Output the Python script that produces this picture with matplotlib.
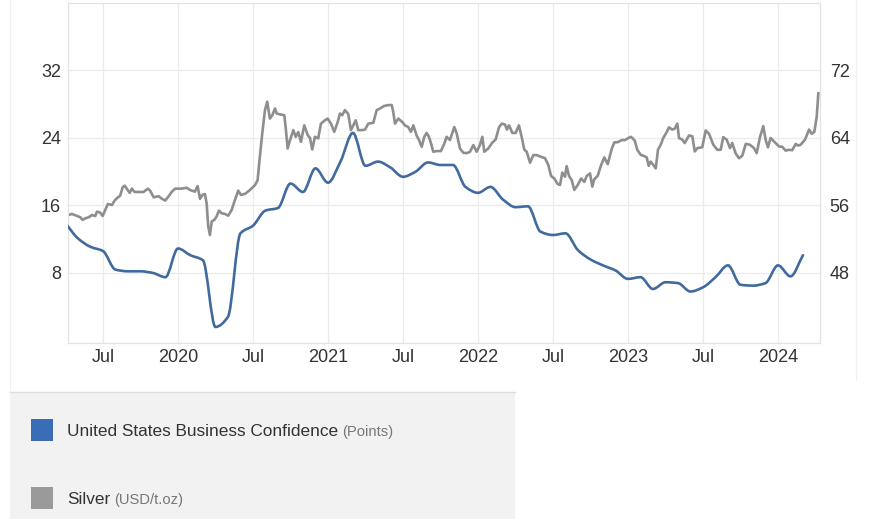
import matplotlib.pyplot as plt
import numpy as np
from matplotlib.path import Path
from matplotlib.patches import PathPatch, Rectangle
from matplotlib.lines import Line2D

plt.rcParams['font.family'] = ['Liberation Sans', 'DejaVu Sans']

# US business confidence (ISM, points), monthly, Apr 2019 .. Mar 2024 -> right axis
blue_start = (2019, 4)
blue_vals = [53.9, 52.1, 51.1, 50.6, 48.4, 48.2, 48.2, 48.0, 47.5,
             50.9, 50.1, 49.5, 41.6, 42.8, 52.7, 53.6, 55.4, 55.7, 58.6, 57.6, 60.4,
             58.7, 61.2, 64.6, 60.7, 61.2, 60.5, 59.4, 60.0, 61.1, 60.8, 60.8, 58.2,
             57.5, 58.2, 56.7, 55.8, 55.9, 52.9, 52.5, 52.7, 50.7, 49.6, 48.9, 48.3,
             47.3, 47.5, 46.1, 46.9, 46.8, 45.8, 46.3, 47.5, 48.9, 46.6, 46.5, 46.8,
             48.9, 47.6, 50.1]

# Silver (USD/t.oz), roughly weekly, time as decimal year -> left axis
silver_t = [2019.255, 2019.271, 2019.293, 2019.327, 2019.349, 2019.365, 2019.382, 2019.405, 2019.427,
            2019.449, 2019.460, 2019.482, 2019.498, 2019.515, 2019.533, 2019.560, 2019.578, 2019.593,
            2019.615, 2019.631, 2019.645, 2019.660, 2019.678, 2019.693, 2019.711, 2019.738, 2019.771,
            2019.800, 2019.815, 2019.838, 2019.871, 2019.893, 2019.915, 2019.938, 2019.960, 2019.982,
            2020.024, 2020.058, 2020.080, 2020.113, 2020.131, 2020.147, 2020.162, 2020.180, 2020.191,
            2020.202, 2020.213, 2020.225, 2020.242, 2020.258, 2020.273, 2020.291, 2020.313, 2020.335,
            2020.358, 2020.380, 2020.402, 2020.420, 2020.447, 2020.480, 2020.513, 2020.531, 2020.547,
            2020.562, 2020.580, 2020.595, 2020.613, 2020.629, 2020.647, 2020.658, 2020.680, 2020.709,
            2020.720, 2020.731, 2020.747, 2020.769, 2020.785, 2020.802, 2020.820, 2020.842, 2020.865,
            2020.880, 2020.895, 2020.913, 2020.935, 2020.953, 2020.980, 2020.998,
            2021.020, 2021.042, 2021.065, 2021.080, 2021.095, 2021.113, 2021.135, 2021.153, 2021.169,
            2021.185, 2021.202, 2021.225, 2021.247, 2021.269, 2021.302, 2021.325, 2021.347, 2021.375,
            2021.402, 2021.425, 2021.435, 2021.447, 2021.469, 2021.495, 2021.513, 2021.535, 2021.553,
            2021.569, 2021.591, 2021.607, 2021.625, 2021.642, 2021.658, 2021.673, 2021.687, 2021.702,
            2021.725, 2021.753, 2021.775, 2021.791, 2021.813, 2021.842, 2021.858, 2021.880, 2021.902,
            2021.925, 2021.947, 2021.969, 2021.991,
            2022.013, 2022.029, 2022.042, 2022.069, 2022.095, 2022.118, 2022.140, 2022.158, 2022.180,
            2022.193, 2022.207, 2022.229, 2022.251, 2022.273, 2022.291, 2022.309, 2022.325, 2022.347,
            2022.369, 2022.391, 2022.420, 2022.447, 2022.469, 2022.487, 2022.509, 2022.531, 2022.547,
            2022.562, 2022.580, 2022.591, 2022.607, 2022.625, 2022.642, 2022.665, 2022.687, 2022.709,
            2022.725, 2022.747, 2022.762, 2022.775, 2022.798, 2022.820, 2022.842, 2022.865, 2022.891,
            2022.909, 2022.931, 2022.958, 2022.980, 2022.998,
            2023.020, 2023.045, 2023.062, 2023.085, 2023.102, 2023.125, 2023.138, 2023.151, 2023.169,
            2023.185, 2023.200, 2023.218, 2023.235, 2023.258, 2023.273, 2023.295, 2023.311, 2023.329,
            2023.340, 2023.362, 2023.378, 2023.407, 2023.429, 2023.445, 2023.462, 2023.495, 2023.518,
            2023.540, 2023.569, 2023.595, 2023.618, 2023.635, 2023.658, 2023.680, 2023.695, 2023.718,
            2023.740, 2023.762, 2023.785, 2023.813, 2023.840, 2023.858, 2023.880, 2023.902, 2023.918,
            2023.933, 2023.951, 2023.978,
            2024.007, 2024.029, 2024.051, 2024.073, 2024.095, 2024.118, 2024.133, 2024.151, 2024.180,
            2024.207, 2024.225, 2024.242, 2024.258, 2024.269]
silver_vals = [14.9, 14.87, 15.0, 14.75, 14.6, 14.29, 14.48, 14.6, 14.87,
               14.75, 15.27, 15.15, 14.75, 15.47, 16.18, 16.06, 16.58, 16.86,
               17.17, 18.15, 18.35, 17.95, 17.5, 18.0, 17.6, 17.6, 17.6,
               18.0, 17.75, 16.97, 17.1, 16.8, 16.58, 17.1, 17.64, 18.0,
               18.0, 18.1, 17.84, 17.64, 18.3, 16.78, 17.25, 17.35, 16.26,
               13.5, 12.5, 14.1, 14.29, 14.7, 15.39, 15.08, 15.0, 14.79,
               15.47, 16.66, 17.76, 17.25, 17.37, 17.84, 18.4, 19.0, 21.97,
               24.54, 27.3, 28.3, 26.3, 26.7, 27.5, 26.9, 26.8, 26.7,
               24.93, 22.76, 23.75, 24.93, 24.14, 24.7, 23.55, 25.5, 24.34,
               24.0, 22.64, 24.14, 23.95, 25.7, 26.1, 26.3,
               25.7, 24.73, 25.9, 26.9, 26.7, 27.3, 26.85, 24.93, 25.5,
               26.1, 24.93, 24.93, 25.0, 25.7, 25.8, 27.3, 27.5, 27.8,
               27.9, 27.9, 27.1, 25.7, 26.3, 25.9, 25.5, 25.3, 24.73,
               25.5, 24.3, 23.75, 22.95, 24.14, 24.6, 24.14, 23.36, 22.37,
               22.45, 22.45, 23.3, 24.14, 23.75, 25.3, 24.54, 22.76, 22.25,
               22.2, 22.37, 23.16, 22.37,
               23.16, 24.14, 22.37, 22.76, 23.44, 23.83, 25.26, 25.7, 25.6,
               25.0, 25.5, 24.6, 24.6, 25.5, 24.14, 22.6, 22.37, 21.07,
               21.97, 21.97, 21.78, 21.6, 20.8, 19.5, 19.2, 18.55, 18.43,
               19.9, 19.4, 20.66, 19.5, 19.0, 17.84, 18.43, 19.2, 18.8,
               19.5, 19.8, 18.23, 19.1, 19.51, 20.74, 21.7, 20.9, 22.68,
               23.48, 23.5, 23.75, 23.75, 23.95,
               24.14, 23.7, 22.6, 22.0, 21.9, 21.7, 20.7, 21.2, 20.8,
               20.4, 22.6, 23.2, 24.0, 24.7, 25.26, 25.0, 25.1, 25.7,
               24.0, 23.8, 23.4, 24.3, 24.2, 22.4, 22.8, 22.9, 24.9,
               24.5, 23.2, 22.6, 22.6, 24.1, 23.8, 22.8, 23.4, 22.17,
               21.6, 21.9, 23.3, 23.2, 22.8, 22.2, 24.1, 25.4, 23.75,
               22.9, 24.0, 23.5,
               23.0, 22.95, 22.5, 22.6, 22.55, 23.3, 23.1, 23.2, 23.8,
               25.0, 24.5, 24.7, 26.5, 29.3]

x_ticks = [2019.5, 2020, 2020.5, 2021, 2021.5, 2022, 2022.5, 2023, 2023.5, 2024]
x_labels = ['Jul', '2020', 'Jul', '2021', 'Jul', '2022', 'Jul', '2023', 'Jul', '2024']
left_ticks = [8, 16, 24, 32]
right_ticks = [48, 56, 64, 72]

BLUE = '#416a9f'
GREY = '#8e8e8e'


def smooth_path(x, y):
    # monotone cubic (Fritsch-Carlson) tangents -> bezier path through the data points
    x = np.asarray(x, float)
    y = np.asarray(y, float)
    h = np.diff(x)
    d = np.diff(y) / h
    m = np.zeros_like(y)
    m[0], m[-1] = d[0], d[-1]
    for i in range(1, len(y) - 1):
        if d[i - 1] * d[i] <= 0:
            m[i] = 0
        else:
            m[i] = 2 / (1 / d[i - 1] + 1 / d[i])
    verts = [(x[0], y[0])]
    codes = [Path.MOVETO]
    for i in range(len(h)):
        verts += [(x[i] + h[i] / 3, y[i] + m[i] * h[i] / 3),
                  (x[i + 1] - h[i] / 3, y[i + 1] - m[i + 1] * h[i] / 3),
                  (x[i + 1], y[i + 1])]
        codes += [Path.CURVE4] * 3
    return Path(verts, codes)


blue_t = [blue_start[0] + (blue_start[1] - 1 + i) / 12 for i in range(len(blue_vals))]

fig = plt.figure(figsize=(8.75, 5.19), dpi=100)
fig.patch.set_facecolor('white')

ax = fig.add_axes([68 / 875, 1 - 343 / 519, (820 - 68) / 875, (343 - 3) / 519])
ax.set_xlim(2019.267, 2024.28)
ax.set_ylim(-0.3, 40)
ax.plot(silver_t, silver_vals, color=GREY, lw=1.9, solid_joinstyle='round', zorder=3)
ax.set_xticks(x_ticks)
ax.set_xticklabels(x_labels)
ax.set_yticks(left_ticks)
ax.grid(True, color='#ebebeb', lw=0.9)
ax.set_axisbelow(True)
ax.tick_params(axis='both', length=0, labelsize=13, labelcolor='#333333')
ax.tick_params(axis='x', pad=4)
ax.tick_params(axis='y', pad=5)
for s in ax.spines.values():
    s.set_color('#e2e2e2')

ax2 = ax.twinx()
ax2.set_ylim(39.7, 80)
ax2.set_yticks(right_ticks)
ax2.tick_params(axis='y', length=0, labelsize=13, labelcolor='#333333', pad=7)
for s in ax2.spines.values():
    s.set_color('#e2e2e2')
ax2.add_patch(PathPatch(smooth_path(blue_t, blue_vals), fill=False, edgecolor=BLUE,
                        lw=1.9, capstyle='round', zorder=4))

# page frame lines
fig.add_artist(Line2D([10 / 875, 10 / 875], [1 - 392 / 519, 1], color='#f0f0f0', lw=1))
fig.add_artist(Line2D([856 / 875, 856 / 875], [1 - 380 / 519, 1], color='#f0f0f0', lw=1))

# legend panel
fig.add_artist(Rectangle((10 / 875, 0), 505 / 875, 127 / 519, transform=fig.transFigure,
                         facecolor='#f2f2f2', edgecolor='none'))
fig.add_artist(Line2D([10 / 875, 515 / 875], [127 / 519, 127 / 519], color='#dddddd', lw=1))

legend_items = [('United States Business Confidence', '(Points)', '#3a6db5', 430),
                ('Silver', '(USD/t.oz)', '#9a9a9a', 498)]
renderer = fig.canvas.get_renderer()
for name, unit, col, yc in legend_items:
    fig.add_artist(Rectangle((31 / 875, 1 - (yc + 11) / 519), 22 / 875, 22 / 519,
                             transform=fig.transFigure, facecolor=col, edgecolor='none'))
    t = fig.text(67 / 875, 1 - (yc + 6) / 519, name, fontsize=12.4, color='#333333',
                 va='baseline', ha='left')
    bb = t.get_window_extent(renderer)
    fig.text((bb.x1 + 4) / 875, 1 - (yc + 6) / 519, unit, fontsize=10.6, color='#777777',
             va='baseline', ha='left')

fig.savefig('out.png', dpi=100, facecolor='white')
